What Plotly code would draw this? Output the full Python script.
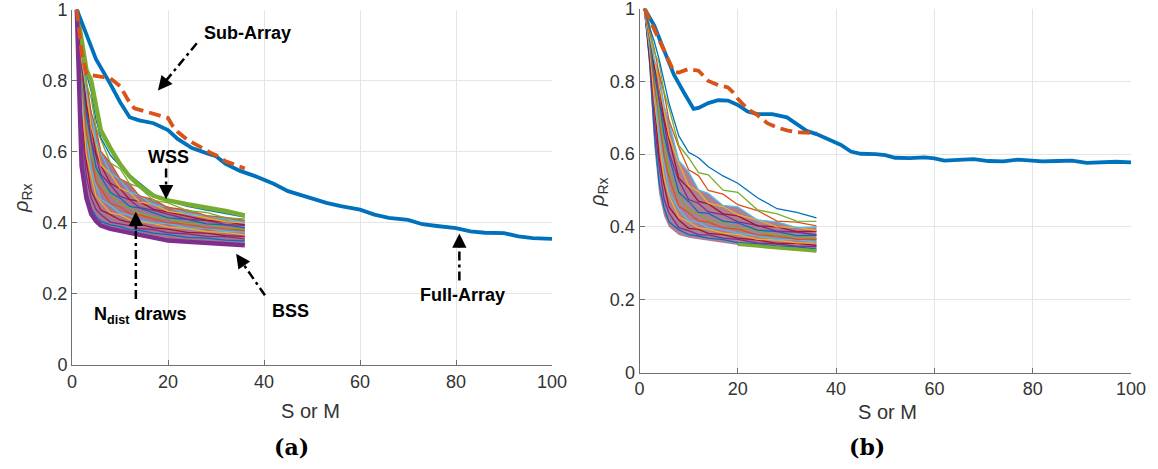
import plotly.graph_objects as go

# ---------------- data: panel (a) ----------------
full_a_x = [1, 3, 5, 8, 10, 12, 14, 17, 20, 22, 25, 28, 30, 32, 35, 38, 40, 42, 45, 48, 50, 53, 56,
            60, 63, 66, 70, 73, 76, 80, 83, 86, 90, 93, 96, 100]
full_a_y = [1.0, 0.93, 0.86, 0.79, 0.74, 0.697, 0.688, 0.68, 0.661, 0.636, 0.61, 0.596, 0.587, 0.566,
            0.546, 0.532, 0.522, 0.51, 0.489, 0.477, 0.470, 0.456, 0.447, 0.437, 0.423, 0.414, 0.408,
            0.396, 0.391, 0.385, 0.376, 0.372, 0.371, 0.362, 0.357, 0.355]
sub_a_x = [1, 2, 3, 5, 8, 10, 11, 12, 13, 15, 18, 20, 21, 22, 24, 27, 29, 30, 32, 34, 36]
sub_a_y = [1.0, 0.88, 0.818, 0.813, 0.806, 0.785, 0.762, 0.738, 0.722, 0.715, 0.704, 0.695, 0.672,
           0.656, 0.634, 0.610, 0.596, 0.590, 0.573, 0.563, 0.553]

draw_x = [1, 2, 3, 4, 5, 6, 8, 10, 12, 14, 17, 20, 24, 28, 32, 36]
wss_a = [1.0, 0.91, 0.83, 0.80, 0.73, 0.66, 0.61, 0.565, 0.53, 0.505, 0.476, 0.463, 0.452, 0.443, 0.433, 0.421]
bss_a = [1.0, 0.56, 0.47, 0.425, 0.405, 0.392, 0.383, 0.377, 0.373, 0.367, 0.358, 0.350, 0.347, 0.344, 0.341, 0.337]
draws_a = [
    [1, 0.60, 0.49, 0.44, 0.418, 0.404, 0.394, 0.389, 0.381, 0.379, 0.371, 0.367, 0.359, 0.357, 0.351, 0.349],
    [1, 0.67, 0.53, 0.47, 0.438, 0.423, 0.402, 0.397, 0.392, 0.384, 0.381, 0.372, 0.369, 0.362, 0.361, 0.355],
    [1, 0.70, 0.57, 0.49, 0.462, 0.436, 0.423, 0.408, 0.401, 0.397, 0.386, 0.382, 0.373, 0.371, 0.364, 0.362],
    [1, 0.75, 0.59, 0.53, 0.476, 0.458, 0.428, 0.423, 0.409, 0.404, 0.398, 0.388, 0.384, 0.375, 0.373, 0.366],
    [1, 0.77, 0.64, 0.55, 0.505, 0.466, 0.449, 0.428, 0.421, 0.408, 0.400, 0.398, 0.386, 0.385, 0.376, 0.374],
    [1, 0.81, 0.65, 0.59, 0.515, 0.495, 0.455, 0.445, 0.426, 0.423, 0.412, 0.400, 0.396, 0.386, 0.385, 0.377],
    [1, 0.82, 0.70, 0.59, 0.553, 0.505, 0.481, 0.452, 0.444, 0.427, 0.416, 0.412, 0.398, 0.396, 0.386, 0.384],
    [1, 0.85, 0.70, 0.63, 0.556, 0.530, 0.485, 0.470, 0.446, 0.442, 0.427, 0.414, 0.410, 0.397, 0.394, 0.386],
    [1, 0.84, 0.73, 0.63, 0.587, 0.536, 0.507, 0.474, 0.465, 0.443, 0.435, 0.424, 0.410, 0.407, 0.395, 0.393],
    [1, 0.87, 0.73, 0.67, 0.594, 0.562, 0.511, 0.496, 0.466, 0.460, 0.438, 0.430, 0.419, 0.407, 0.403, 0.394],
    [1, 0.86, 0.77, 0.67, 0.625, 0.563, 0.538, 0.497, 0.486, 0.459, 0.452, 0.432, 0.425, 0.414, 0.403, 0.400],
    [1, 0.89, 0.77, 0.71, 0.630, 0.597, 0.540, 0.522, 0.486, 0.478, 0.450, 0.445, 0.425, 0.420, 0.409, 0.401],
    [1, 0.88, 0.80, 0.71, 0.667, 0.601, 0.569, 0.524, 0.510, 0.476, 0.465, 0.443, 0.436, 0.420, 0.415, 0.407],
    [1, 0.91, 0.79, 0.75, 0.668, 0.636, 0.568, 0.552, 0.510, 0.500, 0.463, 0.456, 0.434, 0.429, 0.414, 0.411],
    [1, 0.90, 0.82, 0.77, 0.690, 0.640, 0.590, 0.560, 0.535, 0.512, 0.480, 0.462, 0.446, 0.436, 0.425, 0.416],
]

# ---------------- data: panel (b) ----------------
full_b_x = [1, 3, 5, 7, 9, 11, 12, 14, 16, 18, 20, 22, 24, 27, 30, 32, 34, 36, 39, 41, 43, 45, 48, 50,
            52, 55, 58, 60, 62, 65, 68, 71, 74, 77, 80, 82, 85, 88, 91, 94, 97, 100]
full_b_y = [1.0, 0.953, 0.885, 0.818, 0.77, 0.724, 0.727, 0.740, 0.748, 0.747, 0.735, 0.717, 0.710,
            0.710, 0.701, 0.683, 0.664, 0.655, 0.637, 0.625, 0.607, 0.601, 0.600, 0.597, 0.590, 0.589,
            0.591, 0.588, 0.582, 0.585, 0.586, 0.581, 0.580, 0.585, 0.583, 0.580, 0.581, 0.582, 0.576,
            0.578, 0.579, 0.577]
sub_b_x = [1, 3, 5, 7, 8, 10, 12, 13, 14, 16, 18, 19, 20, 22, 24, 26, 28, 30, 32, 34, 36]
sub_b_y = [1.0, 0.945, 0.885, 0.826, 0.824, 0.834, 0.829, 0.815, 0.801, 0.790, 0.783, 0.770, 0.752,
           0.724, 0.707, 0.685, 0.673, 0.665, 0.660, 0.659, 0.658]

env_lo_b = [1.0, 0.84, 0.62, 0.49, 0.43, 0.40, 0.378, 0.370, 0.366, 0.362, 0.356, 0.350, 0.346, 0.342, 0.338, 0.333]
bss_b = [None, None, None, None, None, None, None, None, None, None, None, 0.352, 0.347, 0.343, 0.339, 0.334]
draws_b = [
    [1, 0.86, 0.66, 0.52, 0.452, 0.414, 0.392, 0.379, 0.375, 0.369, 0.365, 0.357, 0.353, 0.347, 0.345, 0.339],
    [1, 0.88, 0.69, 0.57, 0.476, 0.438, 0.398, 0.390, 0.379, 0.378, 0.369, 0.366, 0.356, 0.353, 0.347, 0.346],
    [1, 0.87, 0.74, 0.59, 0.515, 0.455, 0.419, 0.396, 0.393, 0.382, 0.379, 0.369, 0.364, 0.355, 0.355, 0.349],
    [1, 0.90, 0.75, 0.64, 0.535, 0.486, 0.427, 0.414, 0.397, 0.394, 0.383, 0.379, 0.366, 0.364, 0.356, 0.356],
    [1, 0.89, 0.79, 0.65, 0.576, 0.497, 0.449, 0.417, 0.413, 0.398, 0.394, 0.382, 0.376, 0.365, 0.365, 0.358],
    [1, 0.92, 0.79, 0.70, 0.594, 0.536, 0.457, 0.439, 0.416, 0.414, 0.397, 0.394, 0.378, 0.375, 0.366, 0.366],
    [1, 0.91, 0.83, 0.71, 0.634, 0.553, 0.485, 0.446, 0.437, 0.417, 0.413, 0.397, 0.390, 0.376, 0.375, 0.368],
    [1, 0.93, 0.82, 0.75, 0.653, 0.595, 0.495, 0.470, 0.440, 0.437, 0.416, 0.411, 0.391, 0.387, 0.376, 0.377],
    [1, 0.92, 0.85, 0.75, 0.687, 0.604, 0.527, 0.475, 0.465, 0.441, 0.434, 0.414, 0.404, 0.388, 0.386, 0.378],
    [1, 0.94, 0.84, 0.79, 0.695, 0.640, 0.534, 0.506, 0.470, 0.463, 0.436, 0.430, 0.403, 0.400, 0.387, 0.388],
    [1, 0.93, 0.87, 0.79, 0.728, 0.650, 0.575, 0.513, 0.497, 0.465, 0.456, 0.433, 0.419, 0.400, 0.399, 0.390],
    [1, 0.95, 0.86, 0.82, 0.733, 0.688, 0.582, 0.551, 0.502, 0.492, 0.459, 0.455, 0.419, 0.414, 0.398, 0.400],
    [1, 0.94, 0.89, 0.82, 0.767, 0.693, 0.619, 0.557, 0.541, 0.500, 0.490, 0.461, 0.445, 0.416, 0.413, 0.403],
    [1, 0.96, 0.88, 0.85, 0.771, 0.727, 0.624, 0.590, 0.549, 0.543, 0.501, 0.495, 0.447, 0.436, 0.416, 0.415],
    [1, 0.95, 0.91, 0.86, 0.800, 0.740, 0.650, 0.605, 0.590, 0.565, 0.540, 0.520, 0.480, 0.450, 0.440, 0.425],
]

# annotation data (panel a): label, text position, arrow tail, arrow tip (data units)
labels_a = ["Sub-Array", "WSS", "N<sub>dist</sub> draws", "BSS", "Full-Array"]
label_xy = [(36.6, 0.934), (20.2, 0.586), (14.2, 0.140), (45.6, 0.153), (81.3, 0.196)]
arrow_tail = [(26.0, 0.905), (19.6, 0.553), (13.3, 0.186), (40.2, 0.196), (80.7, 0.238)]
arrow_tip = [(17.9, 0.772), (19.6, 0.466), (13.3, 0.431), (34.2, 0.313), (80.7, 0.370)]

x_ticks = [0, 20, 40, 60, 80, 100]
y_ticks = [0, 0.2, 0.4, 0.6, 0.8, 1]
y_ticktext = ["0", "0.2", "0.4", "0.6", "0.8", "1"]

MCOL = ["#0072BD", "#D95319", "#EDB120", "#7E2F8E", "#77AC30", "#4DBEEE", "#A2142F"]
BLUE, ORANGE, PURPLE, GREEN = "#0072BD", "#D95319", "#7E2F8E", "#77AC30"

W, H = 1158, 469
fig = go.Figure()


def add_panel(xa, ya, draws, lo, hi, fill_col):
    # dense core of the draws, then the individual draws on top
    fig.add_trace(go.Scatter(x=draw_x, y=lo, mode="lines", line=dict(width=0, color=fill_col),
                             xaxis=xa, yaxis=ya, showlegend=False, hoverinfo="skip"))
    fig.add_trace(go.Scatter(x=draw_x, y=hi, mode="lines", line=dict(width=0, color=fill_col),
                             fill="tonexty", fillcolor=fill_col,
                             xaxis=xa, yaxis=ya, showlegend=False, hoverinfo="skip"))
    for i, d in enumerate(draws):
        fig.add_trace(go.Scatter(x=draw_x, y=d, mode="lines",
                                 line=dict(width=1.3, color=MCOL[(i * 3) % 7]),
                                 xaxis=xa, yaxis=ya, showlegend=False, hoverinfo="skip"))


add_panel("x", "y", draws_a, bss_a, draws_a[12], "rgba(140,70,105,0.75)")
fig.add_trace(go.Scatter(x=draw_x, y=wss_a, mode="lines", line=dict(width=4.5, color=GREEN),
                         xaxis="x", yaxis="y", showlegend=False))
fig.add_trace(go.Scatter(x=draw_x, y=bss_a, mode="lines", line=dict(width=4.5, color=PURPLE),
                         xaxis="x", yaxis="y", showlegend=False))
fig.add_trace(go.Scatter(x=full_a_x, y=full_a_y, mode="lines", line=dict(width=3.8, color=BLUE),
                         xaxis="x", yaxis="y", showlegend=False))
fig.add_trace(go.Scatter(x=sub_a_x, y=sub_a_y, mode="lines",
                         line=dict(width=3.8, color=ORANGE, dash="12px,6px"),
                         xaxis="x", yaxis="y", showlegend=False))

add_panel("x2", "y2", draws_b, env_lo_b, draws_b[11], "rgba(140,70,105,0.70)")
fig.add_trace(go.Scatter(x=draw_x, y=bss_b, mode="lines", line=dict(width=3.5, color=GREEN),
                         xaxis="x2", yaxis="y2", showlegend=False))
fig.add_trace(go.Scatter(x=full_b_x, y=full_b_y, mode="lines", line=dict(width=3.8, color=BLUE),
                         xaxis="x2", yaxis="y2", showlegend=False))
fig.add_trace(go.Scatter(x=sub_b_x, y=sub_b_y, mode="lines",
                         line=dict(width=3.8, color=ORANGE, dash="12px,6px"),
                         xaxis="x2", yaxis="y2", showlegend=False))

AX = "#707070"
TICKFONT = dict(family="Liberation Sans, Arial", size=18, color="#333333")


def xax(dom, anchor):
    return dict(domain=dom, anchor=anchor, range=[0, 100], tickvals=x_ticks, ticks="inside",
                ticklen=5, tickcolor=AX, showline=True, linecolor=AX, linewidth=1,
                showgrid=True, gridcolor="#e5e5e5", gridwidth=1, zeroline=False,
                tickfont=TICKFONT, fixedrange=True, automargin=False, ticklabeloverflow="allow")


def yax(dom, anchor):
    return dict(domain=dom, anchor=anchor, range=[0, 1], tickvals=y_ticks, ticktext=y_ticktext,
                ticks="inside", ticklen=5, tickcolor=AX, showline=True, linecolor=AX, linewidth=1,
                showgrid=True, gridcolor="#e5e5e5", gridwidth=1, zeroline=False,
                tickfont=TICKFONT, fixedrange=True, automargin=False, ticklabeloverflow="allow")


ann = []
shapes = []
LBLFONT = dict(family="Liberation Sans, Arial", size=18, color="black")
for lab, (tx, ty), (ax0, ay0), (ax1, ay1) in zip(labels_a, label_xy, arrow_tail, arrow_tip):
    ann.append(dict(x=tx, y=ty, xref="x", yref="y", text="<b>" + lab + "</b>", showarrow=False,
                    font=LBLFONT, xanchor="center", yanchor="middle"))
    hx = ax1 + 0.22 * (ax0 - ax1)
    hy = ay1 + 0.22 * (ay0 - ay1)
    shapes.append(dict(type="line", xref="x", yref="y", x0=ax0, y0=ay0, x1=hx, y1=hy,
                       line=dict(color="black", width=2.5, dash="9px,4px,3px,4px")))
    ann.append(dict(x=ax1, y=ay1, xref="x", yref="y", ax=hx, ay=hy, axref="x", ayref="y",
                    text="", showarrow=True, arrowhead=2, arrowsize=1.3, arrowwidth=2.2,
                    arrowcolor="black"))

TITLEFONT = dict(family="Liberation Sans, Arial", size=20, color="#333333")
CAPFONT = dict(family="DejaVu Serif", size=22, color="black")


def p(px, py):
    return px / W, 1 - py / H


for (px, py), txt, f, ang in [
    ((310, 411), "S or M", TITLEFONT, 0),
    ((888, 412), "S or M", TITLEFONT, 0),
    ((291, 447), "<b>(a)</b>", CAPFONT, 0),
    ((867, 447), "<b>(b)</b>", CAPFONT, 0),
    ((22, 198), "<i>ρ</i><sub>Rx</sub>", TITLEFONT, -90),
    ((598, 192), "<i>ρ</i><sub>Rx</sub>", TITLEFONT, -90),
]:
    x, y = p(px, py)
    ann.append(dict(x=x, y=y, xref="paper", yref="paper", text=txt, showarrow=False, font=f,
                    textangle=ang, xanchor="center", yanchor="middle"))

fig.update_layout(
    width=W, height=H, margin=dict(l=0, r=0, t=0, b=0, autoexpand=False),
    paper_bgcolor="white", plot_bgcolor="white", showlegend=False,
    xaxis=xax([72 / W, 552 / W], "y"),
    yaxis=yax([(H - 365) / H, (H - 9.5) / H], "x"),
    xaxis2=xax([639.5 / W, 1131 / W], "y2"),
    yaxis2=yax([(H - 372.5) / H, (H - 8.5) / H], "x2"),
    annotations=ann, shapes=shapes,
)

fig.write_html("out.html", config={"displayModeBar": False},
               post_script="document.body.style.margin='0';document.body.style.overflow='hidden';")
